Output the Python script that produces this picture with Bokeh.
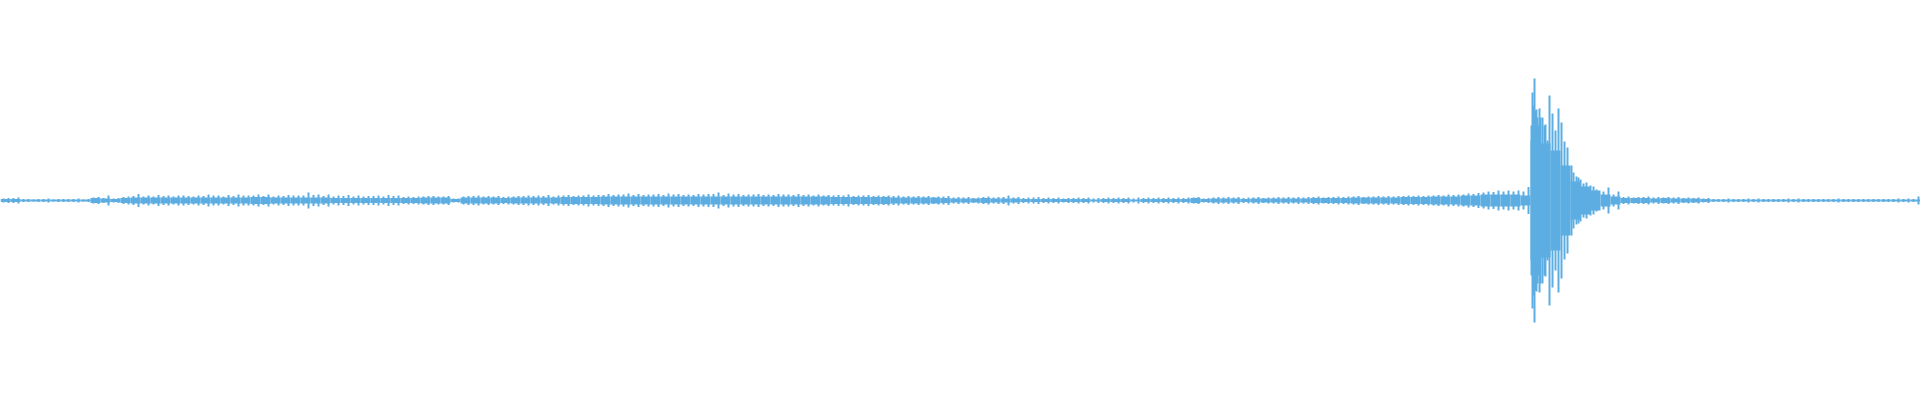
from bokeh.plotting import figure
from bokeh.models import ColumnDataSource, Range1d
from bokeh.embed import file_html
from bokeh.resources import INLINE

# Waveform envelope, one value per time bin (bin width = 10 time units)
BIN = 10
body_amp = [
    1.5, 1.5, 1, 1, 1, 1, 1, 1, 1, 2.5, 2, 1.5, 2.5,
    3, 3, 3, 3, 3, 3, 3, 3, 3, 3, 3, 3, 3.5, 3.5, 3, 3, 3,
    3, 3, 3, 2.5, 2.5, 2.5, 2.5, 2.5, 2.5, 2.5,
    2.5, 2.5, 3, 3, 3, 1.5, 3, 3, 3, 3, 2.5, 3, 3, 3, 3, 3, 3.5, 3.5, 3.5, 3.5,
    4, 4, 4, 4, 4, 4, 4, 4, 4, 4, 4, 4, 4, 4, 4, 4, 4, 4, 4, 4,
    4, 4, 4, 3.5, 3.5, 3.5, 3.5, 3.5, 3.5, 3, 3, 3, 3, 3, 2.5, 2, 2, 2, 2.5, 2,
    2, 2, 1.5, 1.5, 1.5, 1.5, 1.5, 1.5, 1.5, 1, 1.5, 1.5, 1.5, 1, 1.5, 1.5, 1.5, 1.5, 1.5, 2.5,
    1.5, 2, 2, 2, 1.5, 2, 2, 2, 2, 2, 2, 2.5, 2.5, 2.5, 2.5, 3, 3, 3, 3, 3,
    3.5, 3.5, 3.5, 4, 4, 4, 5, 5, 6, 6, 6, 6, 5,
    75, 57, 50, 35, 19, 14, 10,
    6, 4, 2.5, 2.5, 2.5, 2, 2.5, 2, 2, 2,
    1.5, 1, 1, 1, 1, 1, 1, 1, 1, 1, 1, 1, 1, 1, 1, 1, 1, 1, 1, 1, 1, 1,
]
# largest excursion in each bin
spike_amp = [
    2.5, 3, 1.5, 1.5, 2, 1.5, 1.5, 2, 1.5, 3.5, 5, 2.5, 4,
    6.5, 5, 5.5, 5, 5, 4.5, 5, 6, 5, 5.5, 6, 5, 6, 6, 5, 5.5, 5,
    8, 6, 6, 5, 5.5, 5, 4.5, 5, 5.5, 5,
    4, 4, 4.5, 4, 4.5, 2, 4.5, 5, 4.5, 4.5, 4, 4.5, 5, 5, 5.5, 5, 5.5, 5, 6, 5.5,
    6.5, 6, 7, 6.5, 6, 6.5, 7, 6.5, 6, 6.5, 6.5, 8, 7, 6.5, 6, 6.5, 6, 6.5, 6, 6.5,
    6, 6, 5.5, 5.5, 6, 5, 5.5, 5, 5, 5, 4.5, 4.5, 4.5, 4, 4.5, 3.5, 3.5, 3, 4, 3.5,
    5, 3.5, 3, 3.5, 3, 3, 2.5, 3, 3, 2.5, 3, 3, 3, 3, 3, 3, 3, 3, 3, 3.5,
    2.5, 3.5, 3.5, 3.5, 3, 3.5, 3, 3.5, 3.5, 3.5, 3.5, 4, 3.5, 4, 4, 4.5, 4, 4.5, 4.5, 4.5,
    5, 5, 5, 5.5, 6, 6, 7, 7.5, 9, 10, 10, 10, 13.5,
    0, 0, 0, 0, 0, 0, 0,
    13, 9, 4, 3.5, 4, 3.5, 3.5, 3.5, 3, 3,
    2.5, 1.5, 2, 1.5, 2, 2, 1.5, 1.5, 2, 2, 1.5, 1.5, 1.5, 2, 1.5, 1.5, 1.5, 1.5, 1.5, 2, 2, 4,
]
# second-largest excursion in each bin
spike2_amp = [
    2, 2.5, 1.5, 1, 1.5, 1, 1.5, 1.5, 1, 3, 2.5, 2, 3.5,
    4.5, 4, 4, 4.5, 4, 5, 4, 4.5, 5, 4, 4.5, 5, 5, 4.5, 4, 4.5, 5,
    5, 5.5, 4.5, 4, 4.5, 4, 4, 4.5, 4, 4.5,
    3.5, 3.5, 4, 4.5, 4, 2, 4, 4.5, 4, 4, 3.5, 4, 4.5, 4.5, 4.5, 4, 5, 4.5, 5, 5,
    5.5, 5.5, 6, 5.5, 5.5, 6, 5.5, 6, 5.5, 5.5, 6, 6.5, 5.5, 6, 5.5, 6, 5.5, 5.5, 6, 5.5,
    5.5, 5, 5, 5, 5, 4.5, 5, 4.5, 4.5, 4.5, 4, 4, 4, 3.5, 4, 3, 3, 2.5, 3.5, 3,
    3.5, 3, 2.5, 3, 2.5, 2.5, 2, 2.5, 2.5, 2, 2.5, 2.5, 2.5, 2, 2.5, 2.5, 2.5, 2.5, 2.5, 3,
    2, 3, 3, 3, 2.5, 3, 2.5, 3, 3, 3, 3, 3.5, 3, 3.5, 3.5, 4, 3.5, 4, 4, 4,
    4.5, 4.5, 4.5, 5, 5, 5.5, 6, 6.5, 8, 8.5, 9, 9, 9,
    0, 0, 0, 0, 0, 0, 0,
    9, 6, 3.5, 3, 3.5, 3, 3, 3, 2.5, 2.5,
    2, 1.5, 1.5, 1.5, 1.5, 1.5, 1.5, 1.5, 1.5, 1.5, 1.5, 1.5, 1.5, 1.5, 1.5, 1.5, 1.5, 1.5, 1.5, 1.5, 1.5, 1.5,
]

# Individual large peaks of the impact transient (time, amplitude)
peak_t = [1531, 1532, 1533, 1534, 1535, 1536, 1537, 1539, 1540, 1542, 1544, 1545,
          1547, 1549, 1552, 1555, 1558, 1561, 1564, 1567, 1571, 1573, 1576, 1578,
          1580, 1583, 1586, 1590, 1593, 1596]
peak_amp = [60, 108, 95, 122, 90, 91, 83, 92, 83, 83, 75, 76,
            60, 105, 87, 70, 92, 78, 59, 53, 35, 28, 24, 23,
            21, 17, 18, 15, 14, 11]

BLUE = "#5dade2"

n = len(body_amp)
left = [i * BIN for i in range(n)]
right = [(i + 1) * BIN for i in range(n)]
x_a = [i * BIN + 8 for i in range(n)]
x_b = [i * BIN + 3 for i in range(n)]

body_src = ColumnDataSource(dict(left=left, right=right,
                                 top=body_amp, bottom=[-a for a in body_amp]))
spike_src = ColumnDataSource(dict(x=x_a, y0=[-a for a in spike_amp], y1=spike_amp))
spike2_src = ColumnDataSource(dict(x=x_b, y0=[-a for a in spike2_amp], y1=spike2_amp))
peak_src = ColumnDataSource(dict(x=peak_t, y0=[-a for a in peak_amp], y1=peak_amp))

p = figure(width=1920, height=400, output_backend="svg", toolbar_location=None,
           x_range=Range1d(0, 1920), y_range=Range1d(-200, 200),
           min_border=0, min_border_left=0, min_border_right=0,
           min_border_top=0, min_border_bottom=0)
p.axis.visible = False
p.grid.visible = False
p.outline_line_color = None
p.background_fill_color = "white"
p.border_fill_color = "white"

p.quad(left="left", right="right", top="top", bottom="bottom", source=body_src,
       fill_color=BLUE, line_color=None)
for src in (spike_src, spike2_src, peak_src):
    p.segment(x0="x", x1="x", y0="y0", y1="y1", source=src,
              line_color=BLUE, line_width=2)

open("out.html", "w").write(file_html(p, INLINE))
